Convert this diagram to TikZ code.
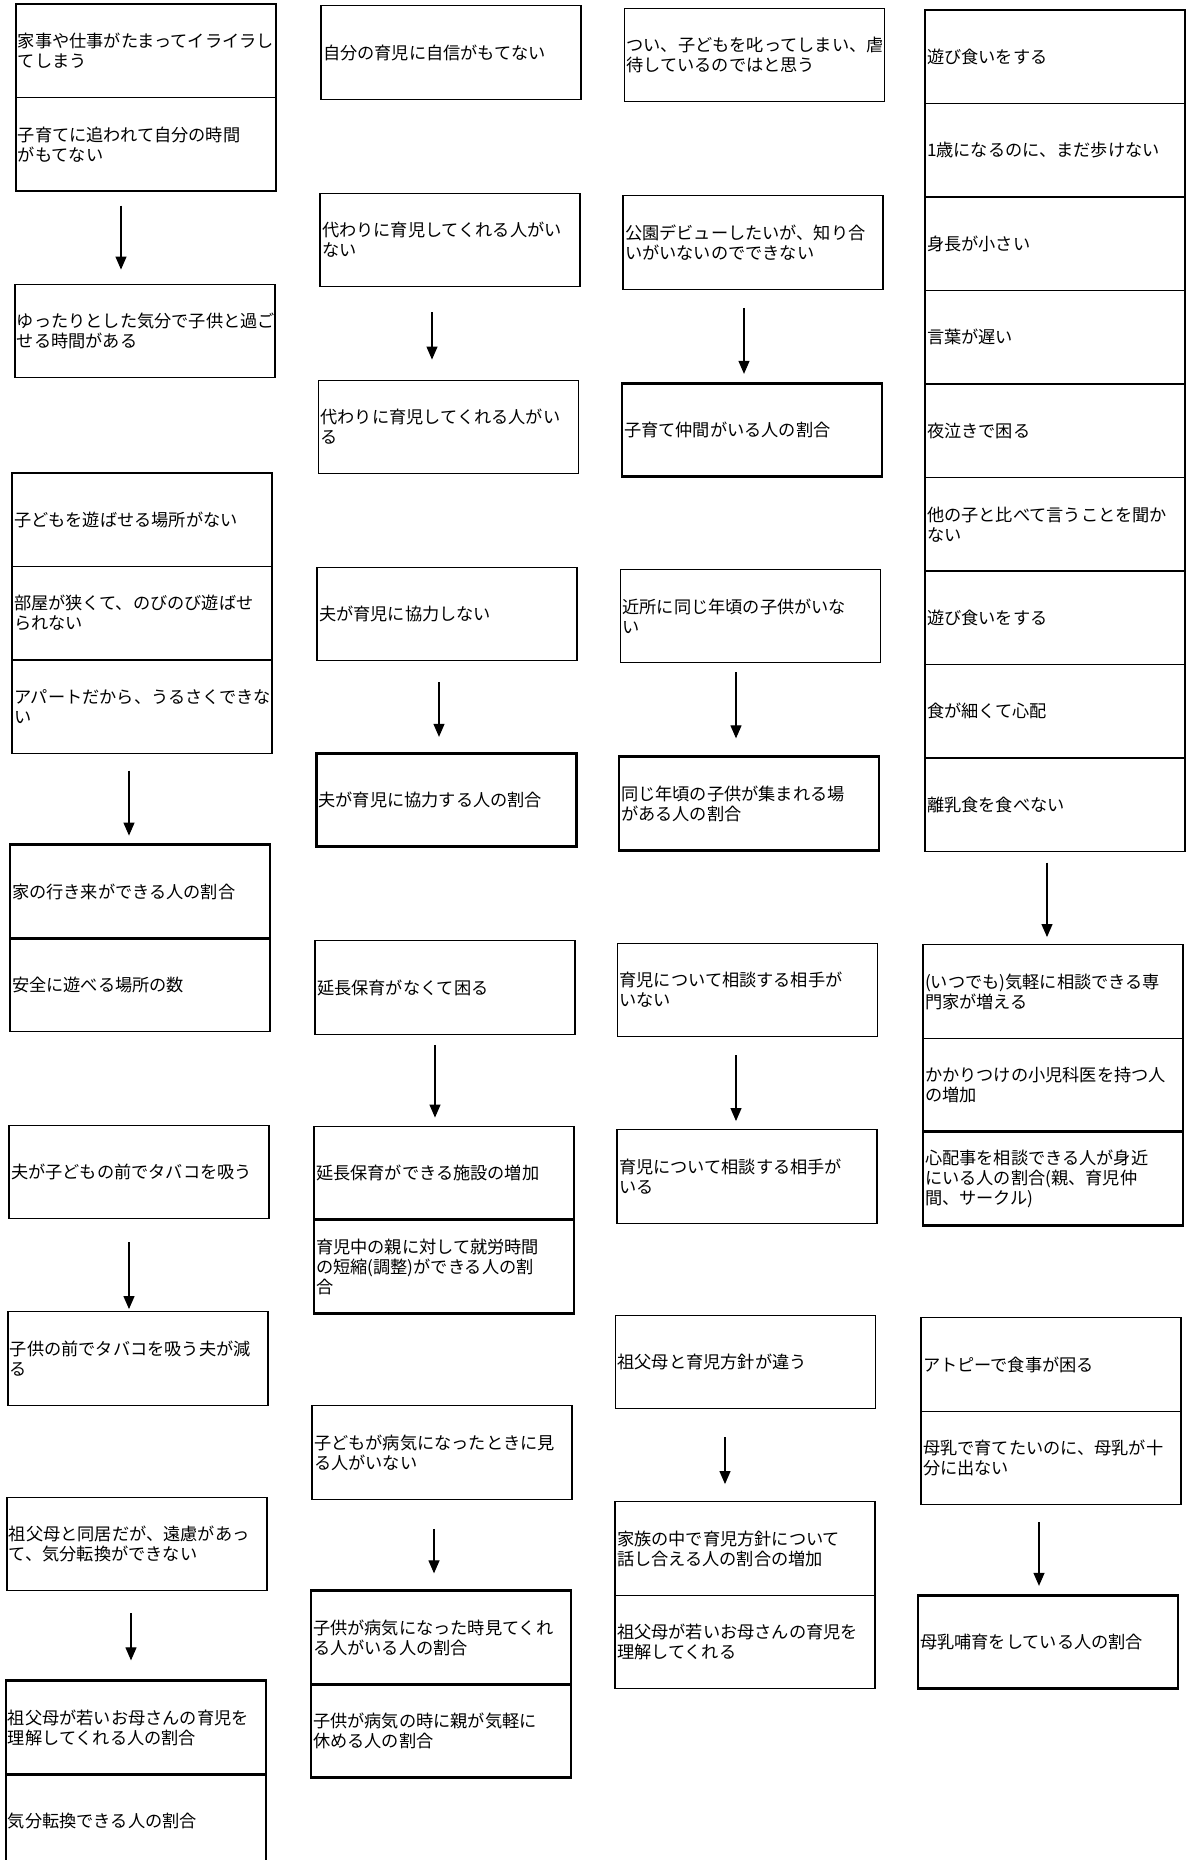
\documentclass[tikz,border=0pt]{standalone}
\usepackage{fontspec}
\setmainfont{Noto Sans CJK JP}
\usetikzlibrary{arrows.meta, calc}
\setlength{\parindent}{0pt}

\begin{document}
\begin{tikzpicture}[
    x=0.5pt, y=-0.5pt,
    every node/.style={font=\fontsize{8.6}{10}\selectfont},
    box/.style={rectangle, draw, line width=0.7pt, text width=128pt, minimum height=46.75pt, inner xsep=1pt, inner ysep=1pt, align=left},
    rate/.style={box, line width=1.4pt},
    arrow/.style={-{Triangle[width=5.5pt, length=6.5pt]}, line width=0.6pt}]

  \useasboundingbox (0,0) rectangle (1185,1860);

  % column 1
  \node[box]  (pHouse)   at (146, 50.75)  {家事や仕事がたまってイライラし\\てしまう};
  \node[box]  (pTime)    at (146, 144.25) {子育てに追われて自分の時間\\がもてない};
  \node[box]  (gRelax)   at (145, 331)    {ゆったりとした気分で子供と過ご\\せる時間がある};
  \node[box]  (pPlace)   at (142, 519.75) {子どもを遊ばせる場所がない};
  \node[box]  (pRoom)    at (142, 613.25) {部屋が狭くて、のびのび遊ばせ\\られない};
  \node[box]  (pApart)   at (142, 706.75) {アパートだから、うるさくできな\\い};
  \node[box]  (gSafe)    at (140, 985)    {安全に遊べる場所の数};
  \node[rate] (gVisit)   at (140, 891.5)  {家の行き来ができる人の割合};
  \node[box]  (pSmoke)   at (139, 1172)   {夫が子どもの前でタバコを吸う};
  \node[box]  (gSmoke)   at (138, 1358.5) {子供の前でタバコを吸う夫が減\\る};
  \node[box]  (pGrand)   at (137, 1544)   {祖父母と同居だが、遠慮があっ\\て、気分転換ができない};
  \node[rate] (gGrand)   at (136, 1727.5) {祖父母が若いお母さんの育児を\\理解してくれる人の割合};
  \node[rate] (gRefresh) at (136, 1821)   {気分転換できる人の割合};

  % column 2
  \node[box]  (pConf)    at (451, 52.5)   {自分の育児に自信がもてない};
  \node[box]  (pSitter)  at (450, 240)    {代わりに育児してくれる人がい\\ない};
  \node[box]  (gSitter)  at (448.5, 427)  {代わりに育児してくれる人がい\\る};
  \node[box]  (pHusb)    at (447, 614)    {夫が育児に協力しない};
  \node[rate] (gHusb)    at (446.5, 800)  {夫が育児に協力する人の割合};
  \node[box]  (pExt)     at (445, 987.5)  {延長保育がなくて困る};
  \node[box]  (gExt)     at (444, 1173)   {延長保育ができる施設の増加};
  \node[rate] (gWork)    at (444, 1266.5) {育児中の親に対して就労時間\\の短縮(調整)ができる人の割\\合};
  \node[box]  (pSick)    at (442, 1452.5) {子どもが病気になったときに見\\る人がいない};
  \node[rate] (gSick)    at (441, 1637.5) {子供が病気になった時見てくれ\\る人がいる人の割合};
  \node[rate] (gLeave)   at (441, 1731)   {子供が病気の時に親が気軽に\\休める人の割合};

  % column 3
  \node[box]  (pScold)   at (754.5, 55)   {つい、子どもを叱ってしまい、虐\\待しているのではと思う};
  \node[box]  (pPark)    at (753, 242.5)  {公園デビューしたいが、知り合\\いがいないのでできない};
  \node[rate] (gPeer)    at (752, 430)    {子育て仲間がいる人の割合};
  \node[box]  (pNeigh)   at (750.5, 616)  {近所に同じ年頃の子供がいな\\い};
  \node[rate] (gGather)  at (749, 803.5)  {同じ年頃の子供が集まれる場\\がある人の割合};
  \node[box]  (pAdvice)  at (747.5, 990)  {育児について相談する相手が\\いない};
  \node[box]  (gAdvice)  at (747, 1176.5) {育児について相談する相手が\\いる};
  \node[box]  (pPolicy)  at (745.5, 1362) {祖父母と育児方針が違う};
  \node[box]  (gTalk)    at (745, 1548.5) {家族の中で育児方針について\\話し合える人の割合の増加};
  \node[box]  (gUnderst) at (745, 1642)   {祖父母が若いお母さんの育児を\\理解してくれる};

  % column 4
  \node[box]  (pPlay)    at (1055, 56.75)  {遊び食いをする};
  \node[box]  (pWalk)    at (1055, 150.25) {1歳になるのに、まだ歩けない};
  \node[box]  (pHeight)  at (1055, 243.75) {身長が小さい};
  \node[box]  (pSpeech)  at (1055, 337.25) {言葉が遅い};
  \node[box]  (pNight)   at (1055, 430.75) {夜泣きで困る};
  \node[box]  (pCompare) at (1055, 524.25) {他の子と比べて言うことを聞か\\ない};
  \node[box]  (pPlayB)   at (1055, 617.75) {遊び食いをする};
  \node[box]  (pEat)     at (1055, 711.25) {食が細くて心配};
  \node[box]  (pWean)    at (1055, 804.75) {離乳食を食べない};
  \node[box]  (gExpert)  at (1053, 991.5)  {(いつでも)気軽に相談できる専\\門家が増える};
  \node[box]  (gDoctor)  at (1053, 1085)   {かかりつけの小児科医を持つ人\\の増加};
  \node[rate] (gConsult) at (1053, 1178.5) {心配事を相談できる人が身近\\にいる人の割合(親、育児仲\\間、サークル)};
  \node[box]  (pAtopy)   at (1051, 1364.5) {アトピーで食事が困る};
  \node[box]  (pMilk)    at (1051, 1458)   {母乳で育てたいのに、母乳が十\\分に出ない};
  \node[rate] (gBreast)  at (1048, 1642)   {母乳哺育をしている人の割合};

  % arrows
  \draw[arrow] ($(pTime.south)+(-25,14)$)     -- ($(gRelax.north)+(-24,-14)$);
  \draw[arrow] ($(pApart.south)+(-13,16.5)$)  -- ($(gVisit.north)+(-11,-7.75)$);
  \draw[arrow] ($(pSmoke.south)+(-10,23)$)    -- ($(gSmoke.north)+(-9,-2)$);
  \draw[arrow] ($(pGrand.south)+(-6,22)$)     -- ($(gGrand.north)+(-5,-19)$);
  \draw[arrow] ($(pSitter.south)+(-18,25)$)   -- ($(gSitter.north)+(-16.5,-20)$);
  \draw[arrow] ($(pHusb.south)+(-8,21)$)      -- ($(gHusb.north)+(-7.5,-15)$);
  \draw[arrow] ($(pExt.south)+(-10,10)$)      -- ($(gExt.north)+(-9,-8)$);
  \draw[arrow] ($(pSick.south)+(-8,29)$)      -- ($(gSick.north)+(-7,-16)$);
  \draw[arrow] ($(pPark.south)+(-9,18)$)      -- ($(gPeer.north)+(-8,-8)$);
  \draw[arrow] ($(pNeigh.south)+(-14.5,9)$)   -- ($(gGather.north)+(-13,-17)$);
  \draw[arrow] ($(pAdvice.south)+(-11.5,18)$) -- ($(gAdvice.north)+(-11,-8)$);
  \draw[arrow] ($(pPolicy.south)+(-20.5,28)$) -- ($(gTalk.north)+(-20,-17)$);
  \draw[arrow] ($(pWean.south)+(-8,10.5)$)    -- ($(gExpert.north)+(-6,-7)$);
  \draw[arrow] ($(pMilk.south)+(-12,17)$)     -- ($(gBreast.north)+(-9,-8)$);
\end{tikzpicture}
\end{document}
